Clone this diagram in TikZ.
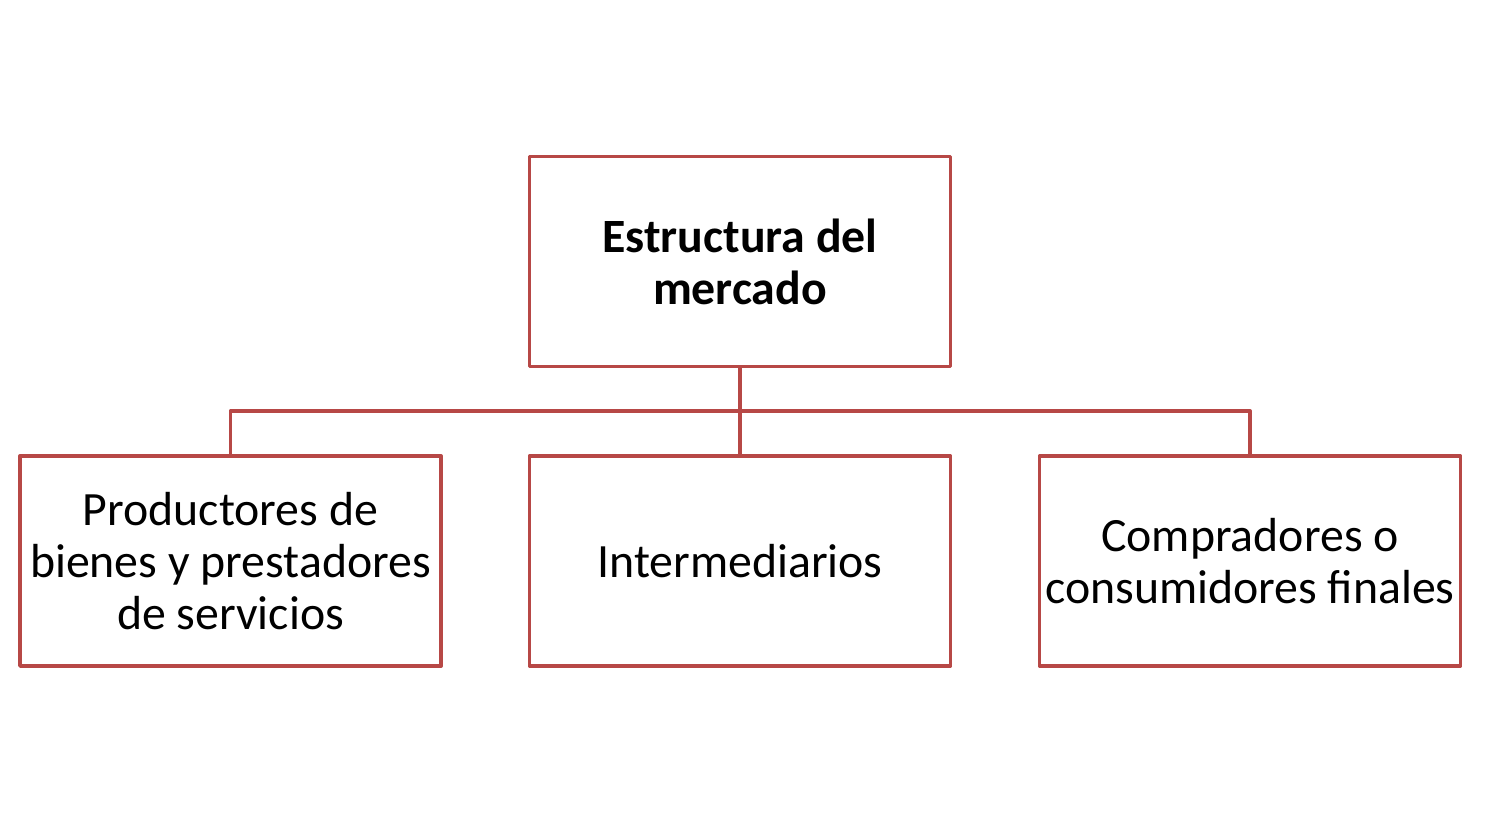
\documentclass[tikz,border=0pt]{standalone}
\usepackage{fontspec}
\setmainfont{Carlito}
\usetikzlibrary{positioning}
\definecolor{boxred}{RGB}{183,72,70}
\begin{document}
\begin{tikzpicture}[font=\fontsize{13.6}{14.8}\selectfont, line join=round, line cap=round]
\tikzset{box/.style={draw=boxred, line width=1.1pt, minimum width=4.21cm, minimum height=2.1cm, align=center, inner sep=0pt}}
\def\xl{2.305} \def\xm{7.40} \def\xr{12.50}
\useasboundingbox (0,0) rectangle (14.86,8.23);
\node[box] (top) at (\xm,5.615) {\textbf{Estructura del}\\\textbf{mercado}};
\node[box] (mid) at (\xm,2.62) {Intermediarios};
\node[box] (left) at (\xl,2.62) {Productores de\\bienes y prestadores\\de servicios};
\node[box] (right) at (\xr,2.62) {Compradores o\\consumidores finales};
\coordinate (bus) at (\xm,4.12);
\draw[boxred, line width=1.1pt] (top.south) -- (mid.north);
\draw[boxred, line width=1.1pt] (left.north) |- (bus) -| (right.north);
\end{tikzpicture}
\end{document}
